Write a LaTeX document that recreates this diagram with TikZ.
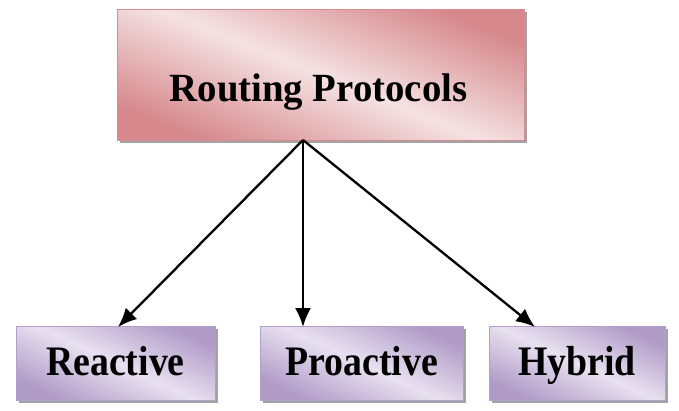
\documentclass[tikz,border=0pt]{standalone}
\usepackage{fontspec}
\setmainfont{Liberation Serif}
\newfontfamily\topfont[FakeStretch=0.97]{Liberation Serif}
\newfontfamily\leaffont[FakeStretch=0.9]{Liberation Serif}
\usetikzlibrary{shadows,arrows.meta}
\definecolor{pinkdark}{RGB}{214,136,140}
\definecolor{pinklight}{RGB}{245,226,227}
\definecolor{pinkedge}{RGB}{215,140,145}
\definecolor{lildark}{RGB}{176,155,199}
\definecolor{lillight}{RGB}{232,225,240}
\definecolor{liledge}{RGB}{178,160,202}
\tikzset{
  topbox/.style={draw=pinkedge, line width=1pt, top color=pinkdark, bottom color=pinkdark, middle color=pinklight, shading angle=-22,
    minimum width=407pt, minimum height=131pt, inner sep=0pt,
    drop shadow={shadow xshift=3pt, shadow yshift=-3pt, fill=black!45, opacity=0.8}},
  leafbox/.style={draw=liledge, line width=1pt, top color=lildark, bottom color=lildark, middle color=lillight, shading angle=-25,
    minimum height=74pt, inner sep=0pt,
    drop shadow={shadow xshift=3pt, shadow yshift=-3pt, fill=black!45, opacity=0.8}},
  toptext/.style={font=\topfont\fontsize{40}{44}\selectfont\bfseries, inner sep=0pt, anchor=base},
  leaftext/.style={font=\leaffont\fontsize{42}{46}\selectfont\bfseries, inner sep=0pt, anchor=base},
  conn/.style={line width=2.3pt, -{Latex[length=19pt,width=16pt]}}
}
\begin{document}
\begin{tikzpicture}[x=1pt,y=-1pt]
\useasboundingbox (0,0) rectangle (679,410);
\node[topbox] (top) at (320.5,74.5) {};
\node[toptext] (toplabel) at (318.5,101) {Routing Protocols};
\node[leafbox, minimum width=199pt] (b1) at (115.5,363) {};
\node[leafbox, minimum width=203pt] (b2) at (361.5,363) {};
\node[leafbox, minimum width=176pt] (b3) at (577,363) {};
\node[leaftext] (l1) at (b1 |- 0,375) {Reactive};
\node[leaftext] (l2) at (b2 |- 0,375) {Proactive};
\node[leaftext] (l3) at (b3 |- 0,375) {Hybrid};
\coordinate (src) at (303,140);
\coordinate (e1) at (118,327);
\coordinate (e2) at (303,327);
\coordinate (e3) at (535,327);
\draw[conn] (src) -- (e1);
\draw[conn] (src) -- (e2);
\draw[conn] (src) -- (e3);
\end{tikzpicture}
\end{document}
